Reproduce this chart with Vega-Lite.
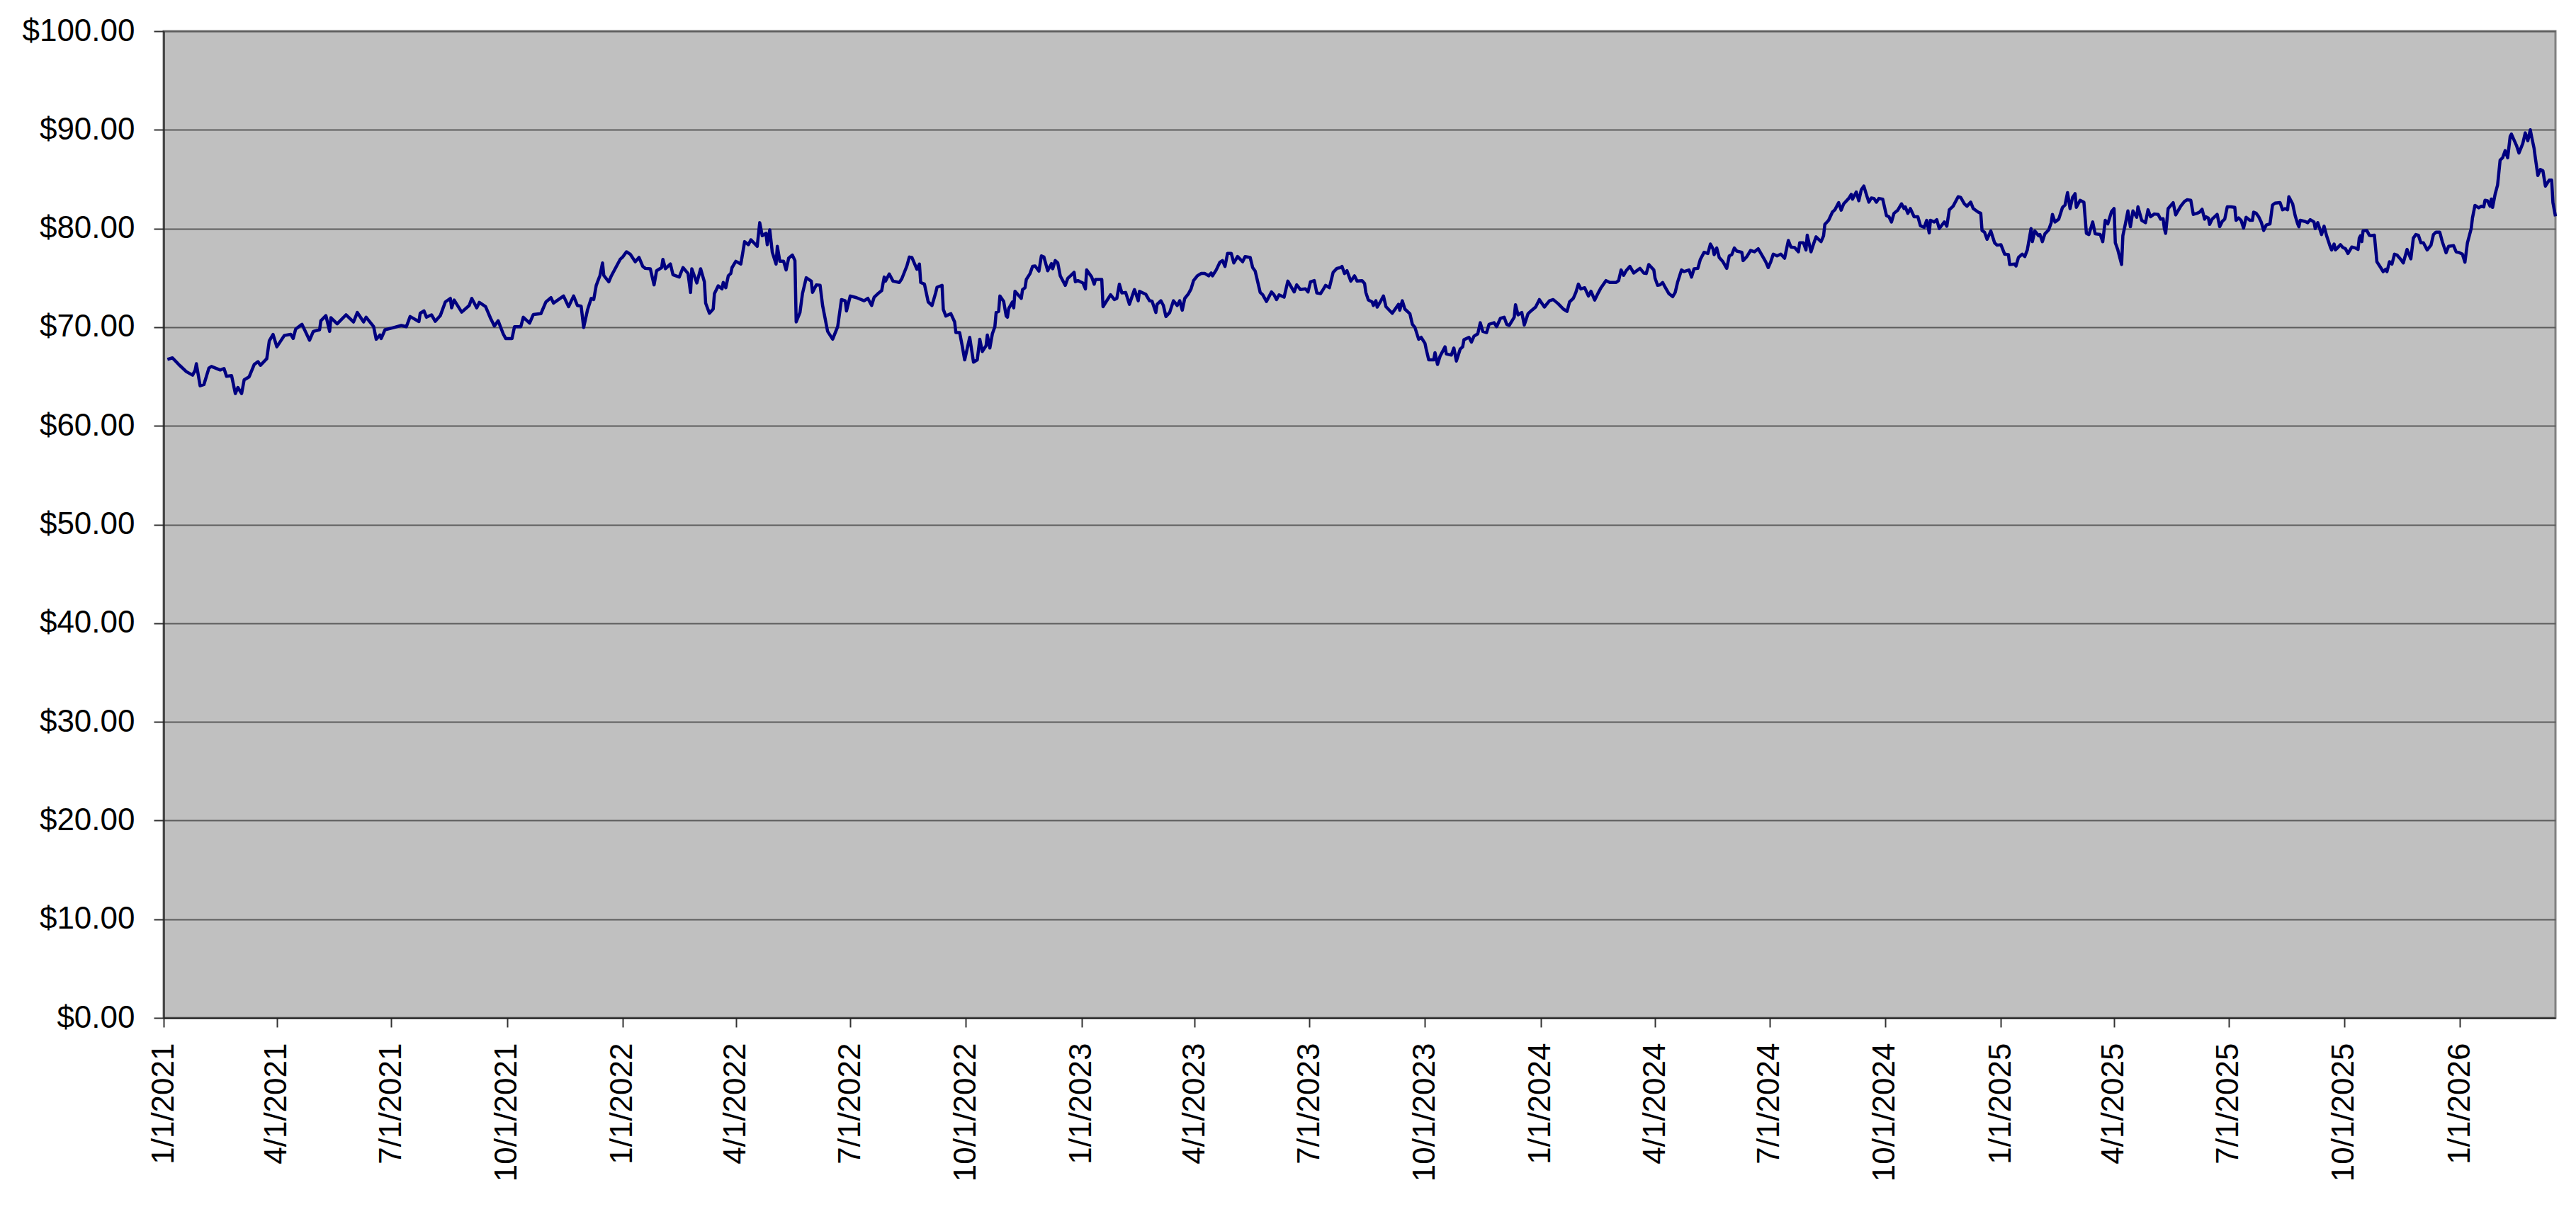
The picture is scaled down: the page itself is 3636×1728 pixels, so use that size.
{
  "$schema": "https://vega.github.io/schema/vega-lite/v6.json",
  "description": "Daily closing price, Jan 2021 - Mar 2026.",
  "width": 3376,
  "height": 1393,
  "autosize": {"type": "none"},
  "padding": {"left": 231, "top": 44, "right": 29, "bottom": 291},
  "background": "#ffffff",
  "data": {
    "values": [
      {"date": "2021-01-04", "price": 66.74}, {"date": "2021-01-08", "price": 66.89}, {"date": "2021-01-13", "price": 66.22},
      {"date": "2021-01-19", "price": 65.50}, {"date": "2021-01-24", "price": 65.14}, {"date": "2021-01-26", "price": 65.62},
      {"date": "2021-01-27", "price": 66.29}, {"date": "2021-01-30", "price": 64.06}, {"date": "2021-02-02", "price": 64.18},
      {"date": "2021-02-06", "price": 65.86}, {"date": "2021-02-08", "price": 66.02}, {"date": "2021-02-15", "price": 65.66},
      {"date": "2021-02-18", "price": 65.81}, {"date": "2021-02-20", "price": 65.02}, {"date": "2021-02-24", "price": 65.09},
      {"date": "2021-02-27", "price": 63.27}, {"date": "2021-03-01", "price": 63.89}, {"date": "2021-03-04", "price": 63.27},
      {"date": "2021-03-06", "price": 64.66}, {"date": "2021-03-10", "price": 64.97}, {"date": "2021-03-14", "price": 66.22},
      {"date": "2021-03-17", "price": 66.50}, {"date": "2021-03-19", "price": 66.14}, {"date": "2021-03-24", "price": 66.81},
      {"date": "2021-03-26", "price": 68.61}, {"date": "2021-03-29", "price": 69.26}, {"date": "2021-04-01", "price": 68.01},
      {"date": "2021-04-07", "price": 69.16}, {"date": "2021-04-12", "price": 69.28}, {"date": "2021-04-14", "price": 68.85},
      {"date": "2021-04-16", "price": 69.81}, {"date": "2021-04-21", "price": 70.29}, {"date": "2021-04-27", "price": 68.68},
      {"date": "2021-04-30", "price": 69.57}, {"date": "2021-05-05", "price": 69.74}, {"date": "2021-05-06", "price": 70.65},
      {"date": "2021-05-10", "price": 71.17}, {"date": "2021-05-13", "price": 69.57}, {"date": "2021-05-14", "price": 70.96},
      {"date": "2021-05-19", "price": 70.34}, {"date": "2021-05-26", "price": 71.25}, {"date": "2021-06-01", "price": 70.53},
      {"date": "2021-06-04", "price": 71.49}, {"date": "2021-06-09", "price": 70.53}, {"date": "2021-06-11", "price": 71.01},
      {"date": "2021-06-17", "price": 70.05}, {"date": "2021-06-19", "price": 68.78}, {"date": "2021-06-22", "price": 69.21},
      {"date": "2021-06-23", "price": 68.85}, {"date": "2021-06-26", "price": 69.74}, {"date": "2021-07-02", "price": 69.93},
      {"date": "2021-07-09", "price": 70.17}, {"date": "2021-07-13", "price": 70.05}, {"date": "2021-07-16", "price": 71.08},
      {"date": "2021-07-23", "price": 70.57}, {"date": "2021-07-24", "price": 71.41}, {"date": "2021-07-27", "price": 71.65},
      {"date": "2021-07-29", "price": 71.01}, {"date": "2021-08-02", "price": 71.25}, {"date": "2021-08-05", "price": 70.60},
      {"date": "2021-08-09", "price": 71.17}, {"date": "2021-08-13", "price": 72.56}, {"date": "2021-08-17", "price": 72.92},
      {"date": "2021-08-18", "price": 71.96}, {"date": "2021-08-20", "price": 72.75}, {"date": "2021-08-26", "price": 71.53},
      {"date": "2021-09-01", "price": 72.20}, {"date": "2021-09-03", "price": 72.92}, {"date": "2021-09-07", "price": 71.96},
      {"date": "2021-09-09", "price": 72.51}, {"date": "2021-09-14", "price": 72.08}, {"date": "2021-09-18", "price": 70.89},
      {"date": "2021-09-21", "price": 70.12}, {"date": "2021-09-24", "price": 70.65}, {"date": "2021-09-28", "price": 69.33},
      {"date": "2021-09-30", "price": 68.85}, {"date": "2021-10-05", "price": 68.85}, {"date": "2021-10-07", "price": 70.05},
      {"date": "2021-10-12", "price": 70.05}, {"date": "2021-10-14", "price": 71.01}, {"date": "2021-10-19", "price": 70.41},
      {"date": "2021-10-22", "price": 71.29}, {"date": "2021-10-28", "price": 71.37}, {"date": "2021-11-01", "price": 72.56},
      {"date": "2021-11-05", "price": 72.99}, {"date": "2021-11-07", "price": 72.44}, {"date": "2021-11-15", "price": 73.16},
      {"date": "2021-11-19", "price": 72.08}, {"date": "2021-11-23", "price": 73.16}, {"date": "2021-11-26", "price": 72.20},
      {"date": "2021-11-29", "price": 72.13}, {"date": "2021-12-01", "price": 69.98}, {"date": "2021-12-04", "price": 71.72},
      {"date": "2021-12-07", "price": 72.92}, {"date": "2021-12-09", "price": 72.80}, {"date": "2021-12-11", "price": 74.24},
      {"date": "2021-12-14", "price": 75.25}, {"date": "2021-12-16", "price": 76.51}, {"date": "2021-12-17", "price": 75.25},
      {"date": "2021-12-21", "price": 74.60}, {"date": "2021-12-23", "price": 75.20}, {"date": "2021-12-26", "price": 75.92},
      {"date": "2021-12-30", "price": 76.87}, {"date": "2022-01-01", "price": 77.11}, {"date": "2022-01-04", "price": 77.64},
      {"date": "2022-01-07", "price": 77.40}, {"date": "2022-01-11", "price": 76.63}, {"date": "2022-01-14", "price": 77.07},
      {"date": "2022-01-17", "price": 76.16}, {"date": "2022-01-19", "price": 75.96}, {"date": "2022-01-23", "price": 75.92},
      {"date": "2022-01-26", "price": 74.29}, {"date": "2022-01-28", "price": 75.72}, {"date": "2022-02-01", "price": 76.04},
      {"date": "2022-02-02", "price": 76.87}, {"date": "2022-02-04", "price": 75.92}, {"date": "2022-02-08", "price": 76.40},
      {"date": "2022-02-10", "price": 75.32}, {"date": "2022-02-15", "price": 75.08}, {"date": "2022-02-18", "price": 76.04},
      {"date": "2022-02-22", "price": 75.44}, {"date": "2022-02-24", "price": 73.52}, {"date": "2022-02-25", "price": 75.92},
      {"date": "2022-03-01", "price": 74.48}, {"date": "2022-03-04", "price": 75.92}, {"date": "2022-03-07", "price": 74.60},
      {"date": "2022-03-08", "price": 72.44}, {"date": "2022-03-11", "price": 71.41}, {"date": "2022-03-14", "price": 71.84},
      {"date": "2022-03-15", "price": 73.40}, {"date": "2022-03-18", "price": 74.19}, {"date": "2022-03-21", "price": 73.88},
      {"date": "2022-03-22", "price": 74.53}, {"date": "2022-03-24", "price": 74.00}, {"date": "2022-03-26", "price": 75.20},
      {"date": "2022-03-28", "price": 75.44}, {"date": "2022-03-29", "price": 76.04}, {"date": "2022-04-01", "price": 76.68},
      {"date": "2022-04-05", "price": 76.40}, {"date": "2022-04-08", "price": 78.67}, {"date": "2022-04-11", "price": 78.36},
      {"date": "2022-04-13", "price": 78.86}, {"date": "2022-04-18", "price": 78.19}, {"date": "2022-04-20", "price": 80.59},
      {"date": "2022-04-22", "price": 79.27}, {"date": "2022-04-25", "price": 79.51}, {"date": "2022-04-26", "price": 78.36},
      {"date": "2022-04-28", "price": 79.87}, {"date": "2022-04-30", "price": 77.59}, {"date": "2022-05-03", "price": 76.40},
      {"date": "2022-05-04", "price": 78.19}, {"date": "2022-05-06", "price": 76.68}, {"date": "2022-05-09", "price": 76.68},
      {"date": "2022-05-11", "price": 75.80}, {"date": "2022-05-13", "price": 76.99}, {"date": "2022-05-16", "price": 77.31},
      {"date": "2022-05-18", "price": 76.75}, {"date": "2022-05-19", "price": 70.53}, {"date": "2022-05-22", "price": 71.49},
      {"date": "2022-05-24", "price": 73.40}, {"date": "2022-05-27", "price": 75.01}, {"date": "2022-05-31", "price": 74.67},
      {"date": "2022-06-01", "price": 73.52}, {"date": "2022-06-04", "price": 74.29}, {"date": "2022-06-07", "price": 74.24},
      {"date": "2022-06-09", "price": 72.20}, {"date": "2022-06-13", "price": 69.57}, {"date": "2022-06-17", "price": 68.78},
      {"date": "2022-06-21", "price": 70.05}, {"date": "2022-06-24", "price": 72.80}, {"date": "2022-06-27", "price": 72.68},
      {"date": "2022-06-28", "price": 71.65}, {"date": "2022-07-01", "price": 73.16}, {"date": "2022-07-06", "price": 72.99},
      {"date": "2022-07-12", "price": 72.68}, {"date": "2022-07-15", "price": 72.92}, {"date": "2022-07-18", "price": 72.20},
      {"date": "2022-07-20", "price": 73.04}, {"date": "2022-07-23", "price": 73.40}, {"date": "2022-07-26", "price": 73.71},
      {"date": "2022-07-28", "price": 75.08}, {"date": "2022-07-29", "price": 74.67}, {"date": "2022-08-01", "price": 75.39},
      {"date": "2022-08-04", "price": 74.67}, {"date": "2022-08-09", "price": 74.53}, {"date": "2022-08-11", "price": 74.91},
      {"date": "2022-08-15", "price": 76.20}, {"date": "2022-08-17", "price": 77.11}, {"date": "2022-08-19", "price": 77.07},
      {"date": "2022-08-23", "price": 75.87}, {"date": "2022-08-25", "price": 76.40}, {"date": "2022-08-26", "price": 74.53},
      {"date": "2022-08-29", "price": 74.36}, {"date": "2022-09-01", "price": 72.56}, {"date": "2022-09-04", "price": 72.20},
      {"date": "2022-09-07", "price": 73.52}, {"date": "2022-09-08", "price": 74.05}, {"date": "2022-09-12", "price": 74.24},
      {"date": "2022-09-13", "price": 71.80}, {"date": "2022-09-15", "price": 71.13}, {"date": "2022-09-19", "price": 71.37},
      {"date": "2022-09-22", "price": 70.53}, {"date": "2022-09-23", "price": 69.45}, {"date": "2022-09-26", "price": 69.45},
      {"date": "2022-09-28", "price": 68.13}, {"date": "2022-09-30", "price": 66.69}, {"date": "2022-10-04", "price": 68.97},
      {"date": "2022-10-07", "price": 66.46}, {"date": "2022-10-10", "price": 66.69}, {"date": "2022-10-12", "price": 68.78},
      {"date": "2022-10-14", "price": 67.53}, {"date": "2022-10-17", "price": 68.13}, {"date": "2022-10-18", "price": 69.21},
      {"date": "2022-10-20", "price": 67.89}, {"date": "2022-10-22", "price": 69.33}, {"date": "2022-10-24", "price": 70.05},
      {"date": "2022-10-25", "price": 71.49}, {"date": "2022-10-27", "price": 71.60}, {"date": "2022-10-28", "price": 73.16},
      {"date": "2022-10-31", "price": 72.61}, {"date": "2022-11-02", "price": 71.13}, {"date": "2022-11-03", "price": 71.01},
      {"date": "2022-11-04", "price": 71.89}, {"date": "2022-11-07", "price": 72.56}, {"date": "2022-11-08", "price": 71.96},
      {"date": "2022-11-09", "price": 73.64}, {"date": "2022-11-14", "price": 72.92}, {"date": "2022-11-15", "price": 73.81},
      {"date": "2022-11-17", "price": 74.00}, {"date": "2022-11-18", "price": 74.84}, {"date": "2022-11-21", "price": 75.44},
      {"date": "2022-11-23", "price": 76.16}, {"date": "2022-11-25", "price": 76.20}, {"date": "2022-11-28", "price": 75.68},
      {"date": "2022-11-30", "price": 77.23}, {"date": "2022-12-02", "price": 77.11}, {"date": "2022-12-05", "price": 75.72},
      {"date": "2022-12-08", "price": 76.44}, {"date": "2022-12-09", "price": 75.92}, {"date": "2022-12-11", "price": 76.75},
      {"date": "2022-12-13", "price": 76.51}, {"date": "2022-12-15", "price": 75.20}, {"date": "2022-12-19", "price": 74.24},
      {"date": "2022-12-21", "price": 74.96}, {"date": "2022-12-24", "price": 75.32}, {"date": "2022-12-26", "price": 75.56},
      {"date": "2022-12-27", "price": 74.60}, {"date": "2022-12-29", "price": 74.72}, {"date": "2023-01-02", "price": 74.48},
      {"date": "2023-01-04", "price": 73.88}, {"date": "2023-01-05", "price": 75.80}, {"date": "2023-01-09", "price": 75.08},
      {"date": "2023-01-11", "price": 74.36}, {"date": "2023-01-12", "price": 74.84}, {"date": "2023-01-17", "price": 74.84},
      {"date": "2023-01-18", "price": 72.08}, {"date": "2023-01-21", "price": 72.68}, {"date": "2023-01-24", "price": 73.28},
      {"date": "2023-01-27", "price": 72.80}, {"date": "2023-01-29", "price": 72.92}, {"date": "2023-01-31", "price": 74.36},
      {"date": "2023-02-02", "price": 73.47}, {"date": "2023-02-05", "price": 73.52}, {"date": "2023-02-08", "price": 72.32},
      {"date": "2023-02-12", "price": 73.81}, {"date": "2023-02-15", "price": 72.68}, {"date": "2023-02-16", "price": 73.64},
      {"date": "2023-02-21", "price": 73.33}, {"date": "2023-02-24", "price": 72.68}, {"date": "2023-02-26", "price": 72.63},
      {"date": "2023-03-01", "price": 71.49}, {"date": "2023-03-02", "price": 72.32}, {"date": "2023-03-05", "price": 72.68},
      {"date": "2023-03-07", "price": 72.20}, {"date": "2023-03-09", "price": 71.08}, {"date": "2023-03-12", "price": 71.49},
      {"date": "2023-03-15", "price": 72.68}, {"date": "2023-03-18", "price": 72.20}, {"date": "2023-03-20", "price": 72.68},
      {"date": "2023-03-22", "price": 71.72}, {"date": "2023-03-24", "price": 72.92}, {"date": "2023-03-27", "price": 73.40},
      {"date": "2023-03-29", "price": 73.88}, {"date": "2023-03-31", "price": 74.72}, {"date": "2023-04-03", "price": 75.20},
      {"date": "2023-04-06", "price": 75.44}, {"date": "2023-04-09", "price": 75.44}, {"date": "2023-04-12", "price": 75.20},
      {"date": "2023-04-14", "price": 75.49}, {"date": "2023-04-15", "price": 75.20}, {"date": "2023-04-18", "price": 75.80},
      {"date": "2023-04-21", "price": 76.59}, {"date": "2023-04-23", "price": 76.75}, {"date": "2023-04-25", "price": 76.16},
      {"date": "2023-04-27", "price": 77.47}, {"date": "2023-04-30", "price": 77.47}, {"date": "2023-05-02", "price": 76.51},
      {"date": "2023-05-05", "price": 77.16}, {"date": "2023-05-09", "price": 76.63}, {"date": "2023-05-11", "price": 77.16},
      {"date": "2023-05-15", "price": 77.07}, {"date": "2023-05-17", "price": 76.04}, {"date": "2023-05-19", "price": 75.68},
      {"date": "2023-05-23", "price": 73.52}, {"date": "2023-05-25", "price": 73.28}, {"date": "2023-05-28", "price": 72.61},
      {"date": "2023-06-01", "price": 73.57}, {"date": "2023-06-03", "price": 73.28}, {"date": "2023-06-05", "price": 72.80},
      {"date": "2023-06-07", "price": 73.28}, {"date": "2023-06-11", "price": 73.04}, {"date": "2023-06-14", "price": 74.67},
      {"date": "2023-06-17", "price": 74.00}, {"date": "2023-06-19", "price": 73.57}, {"date": "2023-06-21", "price": 74.29},
      {"date": "2023-06-24", "price": 73.81}, {"date": "2023-06-28", "price": 73.88}, {"date": "2023-06-30", "price": 73.57},
      {"date": "2023-07-02", "price": 74.60}, {"date": "2023-07-05", "price": 74.72}, {"date": "2023-07-07", "price": 73.47},
      {"date": "2023-07-10", "price": 73.40}, {"date": "2023-07-12", "price": 73.81}, {"date": "2023-07-14", "price": 74.24},
      {"date": "2023-07-17", "price": 74.00}, {"date": "2023-07-20", "price": 75.56}, {"date": "2023-07-23", "price": 75.96},
      {"date": "2023-07-26", "price": 76.04}, {"date": "2023-07-27", "price": 76.16}, {"date": "2023-07-29", "price": 75.44},
      {"date": "2023-07-31", "price": 75.72}, {"date": "2023-08-03", "price": 74.67}, {"date": "2023-08-06", "price": 75.20},
      {"date": "2023-08-08", "price": 74.67}, {"date": "2023-08-12", "price": 74.72}, {"date": "2023-08-14", "price": 74.43},
      {"date": "2023-08-15", "price": 73.52}, {"date": "2023-08-17", "price": 72.75}, {"date": "2023-08-20", "price": 72.56},
      {"date": "2023-08-21", "price": 72.20}, {"date": "2023-08-23", "price": 72.68}, {"date": "2023-08-24", "price": 72.04},
      {"date": "2023-08-27", "price": 72.68}, {"date": "2023-08-29", "price": 73.16}, {"date": "2023-08-31", "price": 72.08},
      {"date": "2023-09-05", "price": 71.41}, {"date": "2023-09-08", "price": 71.96}, {"date": "2023-09-10", "price": 72.32},
      {"date": "2023-09-11", "price": 71.72}, {"date": "2023-09-13", "price": 72.68}, {"date": "2023-09-15", "price": 71.84},
      {"date": "2023-09-19", "price": 71.37}, {"date": "2023-09-21", "price": 70.29}, {"date": "2023-09-23", "price": 69.98},
      {"date": "2023-09-26", "price": 68.78}, {"date": "2023-09-28", "price": 68.97}, {"date": "2023-10-01", "price": 68.37},
      {"date": "2023-10-02", "price": 67.77}, {"date": "2023-10-04", "price": 66.69}, {"date": "2023-10-08", "price": 66.69},
      {"date": "2023-10-09", "price": 67.41}, {"date": "2023-10-11", "price": 66.22}, {"date": "2023-10-13", "price": 67.05},
      {"date": "2023-10-17", "price": 68.01}, {"date": "2023-10-18", "price": 67.29}, {"date": "2023-10-22", "price": 67.17},
      {"date": "2023-10-24", "price": 67.89}, {"date": "2023-10-26", "price": 66.57}, {"date": "2023-10-29", "price": 67.77},
      {"date": "2023-10-31", "price": 68.01}, {"date": "2023-11-01", "price": 68.73}, {"date": "2023-11-05", "price": 68.97},
      {"date": "2023-11-07", "price": 68.49}, {"date": "2023-11-09", "price": 69.09}, {"date": "2023-11-12", "price": 69.33},
      {"date": "2023-11-14", "price": 70.45}, {"date": "2023-11-16", "price": 69.57}, {"date": "2023-11-19", "price": 69.45},
      {"date": "2023-11-21", "price": 70.29}, {"date": "2023-11-25", "price": 70.45}, {"date": "2023-11-27", "price": 70.05},
      {"date": "2023-11-30", "price": 70.89}, {"date": "2023-12-03", "price": 71.01}, {"date": "2023-12-05", "price": 70.29},
      {"date": "2023-12-07", "price": 70.17}, {"date": "2023-12-11", "price": 71.01}, {"date": "2023-12-12", "price": 72.28},
      {"date": "2023-12-14", "price": 71.25}, {"date": "2023-12-17", "price": 71.49}, {"date": "2023-12-19", "price": 70.22},
      {"date": "2023-12-22", "price": 71.37}, {"date": "2023-12-25", "price": 71.72}, {"date": "2023-12-28", "price": 72.04},
      {"date": "2023-12-31", "price": 72.80}, {"date": "2024-01-04", "price": 72.04}, {"date": "2024-01-08", "price": 72.68},
      {"date": "2024-01-11", "price": 72.80}, {"date": "2024-01-15", "price": 72.37}, {"date": "2024-01-19", "price": 71.84},
      {"date": "2024-01-22", "price": 71.60}, {"date": "2024-01-24", "price": 72.56}, {"date": "2024-01-27", "price": 72.92},
      {"date": "2024-01-29", "price": 73.52}, {"date": "2024-01-31", "price": 74.36}, {"date": "2024-02-02", "price": 73.88},
      {"date": "2024-02-05", "price": 74.00}, {"date": "2024-02-08", "price": 73.16}, {"date": "2024-02-10", "price": 73.64},
      {"date": "2024-02-13", "price": 72.75}, {"date": "2024-02-16", "price": 73.52}, {"date": "2024-02-18", "price": 74.00},
      {"date": "2024-02-22", "price": 74.72}, {"date": "2024-02-25", "price": 74.53}, {"date": "2024-03-01", "price": 74.53},
      {"date": "2024-03-03", "price": 74.72}, {"date": "2024-03-05", "price": 75.80}, {"date": "2024-03-07", "price": 75.25},
      {"date": "2024-03-09", "price": 75.72}, {"date": "2024-03-12", "price": 76.16}, {"date": "2024-03-15", "price": 75.49},
      {"date": "2024-03-20", "price": 75.96}, {"date": "2024-03-23", "price": 75.49}, {"date": "2024-03-25", "price": 75.44},
      {"date": "2024-03-27", "price": 76.35}, {"date": "2024-03-31", "price": 75.80}, {"date": "2024-04-01", "price": 74.96},
      {"date": "2024-04-03", "price": 74.24}, {"date": "2024-04-05", "price": 74.29}, {"date": "2024-04-07", "price": 74.53},
      {"date": "2024-04-09", "price": 74.05}, {"date": "2024-04-12", "price": 73.40}, {"date": "2024-04-15", "price": 73.09},
      {"date": "2024-04-17", "price": 73.52}, {"date": "2024-04-19", "price": 74.60}, {"date": "2024-04-22", "price": 75.80},
      {"date": "2024-04-24", "price": 75.63}, {"date": "2024-04-28", "price": 75.80}, {"date": "2024-04-30", "price": 75.08},
      {"date": "2024-05-02", "price": 75.92}, {"date": "2024-05-05", "price": 75.96}, {"date": "2024-05-07", "price": 76.87},
      {"date": "2024-05-10", "price": 77.59}, {"date": "2024-05-13", "price": 77.47}, {"date": "2024-05-15", "price": 78.43},
      {"date": "2024-05-17", "price": 77.95}, {"date": "2024-05-18", "price": 77.35}, {"date": "2024-05-20", "price": 78.02},
      {"date": "2024-05-22", "price": 77.07}, {"date": "2024-05-25", "price": 76.63}, {"date": "2024-05-28", "price": 75.96},
      {"date": "2024-05-30", "price": 77.23}, {"date": "2024-06-01", "price": 77.35}, {"date": "2024-06-03", "price": 78.02},
      {"date": "2024-06-05", "price": 77.71}, {"date": "2024-06-09", "price": 77.59}, {"date": "2024-06-10", "price": 76.75},
      {"date": "2024-06-13", "price": 77.16}, {"date": "2024-06-16", "price": 77.78}, {"date": "2024-06-19", "price": 77.64},
      {"date": "2024-06-22", "price": 77.95}, {"date": "2024-06-26", "price": 77.07}, {"date": "2024-06-28", "price": 76.63},
      {"date": "2024-06-30", "price": 76.04}, {"date": "2024-07-02", "price": 76.63}, {"date": "2024-07-04", "price": 77.40},
      {"date": "2024-07-07", "price": 77.23}, {"date": "2024-07-10", "price": 77.40}, {"date": "2024-07-13", "price": 76.99},
      {"date": "2024-07-16", "price": 78.79}, {"date": "2024-07-18", "price": 78.12}, {"date": "2024-07-21", "price": 78.07},
      {"date": "2024-07-24", "price": 77.64}, {"date": "2024-07-25", "price": 78.55}, {"date": "2024-07-28", "price": 78.55},
      {"date": "2024-07-30", "price": 77.83}, {"date": "2024-07-31", "price": 79.32}, {"date": "2024-08-03", "price": 77.64},
      {"date": "2024-08-05", "price": 78.43}, {"date": "2024-08-07", "price": 79.15}, {"date": "2024-08-11", "price": 78.67},
      {"date": "2024-08-13", "price": 79.27}, {"date": "2024-08-14", "price": 80.42}, {"date": "2024-08-17", "price": 80.83},
      {"date": "2024-08-20", "price": 81.66}, {"date": "2024-08-22", "price": 81.90}, {"date": "2024-08-25", "price": 82.62},
      {"date": "2024-08-27", "price": 81.86}, {"date": "2024-08-29", "price": 82.50}, {"date": "2024-09-02", "price": 83.05},
      {"date": "2024-09-04", "price": 83.46}, {"date": "2024-09-05", "price": 82.98}, {"date": "2024-09-08", "price": 83.70},
      {"date": "2024-09-10", "price": 82.81}, {"date": "2024-09-12", "price": 83.94}, {"date": "2024-09-14", "price": 84.30},
      {"date": "2024-09-16", "price": 83.46}, {"date": "2024-09-18", "price": 82.67}, {"date": "2024-09-20", "price": 83.10},
      {"date": "2024-09-22", "price": 83.05}, {"date": "2024-09-24", "price": 82.67}, {"date": "2024-09-26", "price": 83.05},
      {"date": "2024-09-29", "price": 82.98}, {"date": "2024-10-02", "price": 81.31}, {"date": "2024-10-04", "price": 81.19},
      {"date": "2024-10-06", "price": 80.66}, {"date": "2024-10-08", "price": 81.54}, {"date": "2024-10-11", "price": 81.86},
      {"date": "2024-10-14", "price": 82.50}, {"date": "2024-10-16", "price": 82.02}, {"date": "2024-10-17", "price": 82.19},
      {"date": "2024-10-19", "price": 81.54}, {"date": "2024-10-21", "price": 82.02}, {"date": "2024-10-24", "price": 81.19},
      {"date": "2024-10-27", "price": 81.19}, {"date": "2024-10-29", "price": 80.28}, {"date": "2024-11-01", "price": 80.11},
      {"date": "2024-11-03", "price": 80.83}, {"date": "2024-11-05", "price": 79.56}, {"date": "2024-11-06", "price": 80.83},
      {"date": "2024-11-09", "price": 80.66}, {"date": "2024-11-11", "price": 80.90}, {"date": "2024-11-13", "price": 79.99},
      {"date": "2024-11-17", "price": 80.66}, {"date": "2024-11-19", "price": 80.23}, {"date": "2024-11-21", "price": 81.90},
      {"date": "2024-11-24", "price": 82.26}, {"date": "2024-11-28", "price": 83.22}, {"date": "2024-11-30", "price": 83.15},
      {"date": "2024-12-03", "price": 82.50}, {"date": "2024-12-05", "price": 82.26}, {"date": "2024-12-08", "price": 82.67},
      {"date": "2024-12-10", "price": 82.02}, {"date": "2024-12-14", "price": 81.66}, {"date": "2024-12-16", "price": 81.54},
      {"date": "2024-12-17", "price": 79.80}, {"date": "2024-12-19", "price": 79.63}, {"date": "2024-12-21", "price": 78.91},
      {"date": "2024-12-24", "price": 79.75}, {"date": "2024-12-27", "price": 78.55}, {"date": "2024-12-29", "price": 78.31},
      {"date": "2025-01-01", "price": 78.36}, {"date": "2025-01-04", "price": 77.40}, {"date": "2025-01-07", "price": 77.35},
      {"date": "2025-01-08", "price": 76.35}, {"date": "2025-01-12", "price": 76.40}, {"date": "2025-01-13", "price": 76.20},
      {"date": "2025-01-15", "price": 77.07}, {"date": "2025-01-18", "price": 77.40}, {"date": "2025-01-20", "price": 77.16},
      {"date": "2025-01-22", "price": 77.83}, {"date": "2025-01-25", "price": 79.99}, {"date": "2025-01-26", "price": 78.67},
      {"date": "2025-01-28", "price": 79.75}, {"date": "2025-01-31", "price": 79.27}, {"date": "2025-02-01", "price": 79.39},
      {"date": "2025-02-03", "price": 78.67}, {"date": "2025-02-05", "price": 79.46}, {"date": "2025-02-08", "price": 79.87},
      {"date": "2025-02-10", "price": 80.59}, {"date": "2025-02-11", "price": 81.43}, {"date": "2025-02-13", "price": 80.66},
      {"date": "2025-02-16", "price": 80.95}, {"date": "2025-02-19", "price": 82.14}, {"date": "2025-02-21", "price": 82.38},
      {"date": "2025-02-23", "price": 83.63}, {"date": "2025-02-25", "price": 82.02}, {"date": "2025-02-27", "price": 83.15},
      {"date": "2025-03-01", "price": 83.53}, {"date": "2025-03-02", "price": 82.14}, {"date": "2025-03-05", "price": 82.86},
      {"date": "2025-03-08", "price": 82.67}, {"date": "2025-03-10", "price": 79.51}, {"date": "2025-03-12", "price": 79.39},
      {"date": "2025-03-15", "price": 80.66}, {"date": "2025-03-17", "price": 79.46}, {"date": "2025-03-21", "price": 79.39},
      {"date": "2025-03-23", "price": 78.67}, {"date": "2025-03-25", "price": 80.83}, {"date": "2025-03-27", "price": 80.47},
      {"date": "2025-03-30", "price": 81.71}, {"date": "2025-04-01", "price": 82.02}, {"date": "2025-04-02", "price": 78.55},
      {"date": "2025-04-04", "price": 77.83}, {"date": "2025-04-07", "price": 76.35}, {"date": "2025-04-08", "price": 79.27},
      {"date": "2025-04-10", "price": 80.47}, {"date": "2025-04-12", "price": 81.78}, {"date": "2025-04-14", "price": 80.18},
      {"date": "2025-04-16", "price": 81.78}, {"date": "2025-04-19", "price": 81.14}, {"date": "2025-04-20", "price": 82.19},
      {"date": "2025-04-23", "price": 80.83}, {"date": "2025-04-26", "price": 80.59}, {"date": "2025-04-28", "price": 81.90},
      {"date": "2025-04-30", "price": 81.19}, {"date": "2025-05-03", "price": 81.47}, {"date": "2025-05-06", "price": 81.43},
      {"date": "2025-05-08", "price": 80.95}, {"date": "2025-05-10", "price": 80.99}, {"date": "2025-05-11", "price": 79.99},
      {"date": "2025-05-12", "price": 79.51}, {"date": "2025-05-14", "price": 82.02}, {"date": "2025-05-18", "price": 82.62},
      {"date": "2025-05-20", "price": 81.38}, {"date": "2025-05-24", "price": 82.26}, {"date": "2025-05-27", "price": 82.74},
      {"date": "2025-05-29", "price": 82.91}, {"date": "2025-06-01", "price": 82.86}, {"date": "2025-06-03", "price": 81.43},
      {"date": "2025-06-06", "price": 81.54}, {"date": "2025-06-08", "price": 81.66}, {"date": "2025-06-10", "price": 81.95},
      {"date": "2025-06-12", "price": 80.95}, {"date": "2025-06-13", "price": 81.19}, {"date": "2025-06-15", "price": 81.07},
      {"date": "2025-06-16", "price": 80.42}, {"date": "2025-06-18", "price": 80.95}, {"date": "2025-06-22", "price": 81.43},
      {"date": "2025-06-24", "price": 80.18}, {"date": "2025-06-26", "price": 80.71}, {"date": "2025-06-28", "price": 80.95},
      {"date": "2025-06-30", "price": 82.19}, {"date": "2025-07-03", "price": 82.19}, {"date": "2025-07-06", "price": 82.14},
      {"date": "2025-07-07", "price": 80.83}, {"date": "2025-07-09", "price": 81.07}, {"date": "2025-07-11", "price": 80.83},
      {"date": "2025-07-13", "price": 80.04}, {"date": "2025-07-15", "price": 81.14}, {"date": "2025-07-18", "price": 80.83},
      {"date": "2025-07-20", "price": 80.83}, {"date": "2025-07-21", "price": 81.66}, {"date": "2025-07-23", "price": 81.54},
      {"date": "2025-07-25", "price": 81.19}, {"date": "2025-07-27", "price": 80.66}, {"date": "2025-07-29", "price": 79.80},
      {"date": "2025-07-31", "price": 80.35}, {"date": "2025-08-03", "price": 80.47}, {"date": "2025-08-05", "price": 82.38},
      {"date": "2025-08-07", "price": 82.57}, {"date": "2025-08-11", "price": 82.62}, {"date": "2025-08-13", "price": 81.90},
      {"date": "2025-08-15", "price": 82.02}, {"date": "2025-08-17", "price": 81.90}, {"date": "2025-08-18", "price": 83.22},
      {"date": "2025-08-21", "price": 82.50}, {"date": "2025-08-23", "price": 81.31}, {"date": "2025-08-25", "price": 80.47},
      {"date": "2025-08-26", "price": 80.18}, {"date": "2025-08-27", "price": 80.83}, {"date": "2025-08-31", "price": 80.71},
      {"date": "2025-09-02", "price": 80.59}, {"date": "2025-09-04", "price": 80.90}, {"date": "2025-09-07", "price": 80.66},
      {"date": "2025-09-08", "price": 79.99}, {"date": "2025-09-10", "price": 80.59}, {"date": "2025-09-13", "price": 79.39},
      {"date": "2025-09-15", "price": 80.23}, {"date": "2025-09-17", "price": 79.27}, {"date": "2025-09-20", "price": 78.12},
      {"date": "2025-09-21", "price": 77.83}, {"date": "2025-09-23", "price": 78.43}, {"date": "2025-09-24", "price": 77.83},
      {"date": "2025-09-25", "price": 77.95}, {"date": "2025-09-28", "price": 78.36}, {"date": "2025-09-30", "price": 78.07},
      {"date": "2025-10-02", "price": 77.95}, {"date": "2025-10-04", "price": 77.47}, {"date": "2025-10-07", "price": 78.12},
      {"date": "2025-10-10", "price": 78.02}, {"date": "2025-10-12", "price": 77.88}, {"date": "2025-10-13", "price": 79.03},
      {"date": "2025-10-14", "price": 79.27}, {"date": "2025-10-15", "price": 78.67}, {"date": "2025-10-16", "price": 79.75},
      {"date": "2025-10-19", "price": 79.80}, {"date": "2025-10-21", "price": 79.32}, {"date": "2025-10-22", "price": 79.27},
      {"date": "2025-10-25", "price": 79.32}, {"date": "2025-10-27", "price": 76.63}, {"date": "2025-10-30", "price": 76.04},
      {"date": "2025-11-01", "price": 75.63}, {"date": "2025-11-03", "price": 75.87}, {"date": "2025-11-04", "price": 75.63},
      {"date": "2025-11-06", "price": 76.63}, {"date": "2025-11-08", "price": 76.40}, {"date": "2025-11-10", "price": 77.40},
      {"date": "2025-11-12", "price": 77.31}, {"date": "2025-11-15", "price": 76.87}, {"date": "2025-11-17", "price": 76.51},
      {"date": "2025-11-20", "price": 77.88}, {"date": "2025-11-23", "price": 76.92}, {"date": "2025-11-25", "price": 79.03},
      {"date": "2025-11-27", "price": 79.39}, {"date": "2025-11-29", "price": 79.32}, {"date": "2025-12-01", "price": 78.55},
      {"date": "2025-12-03", "price": 78.55}, {"date": "2025-12-06", "price": 77.83}, {"date": "2025-12-09", "price": 78.31},
      {"date": "2025-12-11", "price": 79.39}, {"date": "2025-12-13", "price": 79.63}, {"date": "2025-12-16", "price": 79.63},
      {"date": "2025-12-18", "price": 78.67}, {"date": "2025-12-21", "price": 77.54}, {"date": "2025-12-23", "price": 78.19},
      {"date": "2025-12-27", "price": 78.26}, {"date": "2025-12-29", "price": 77.64}, {"date": "2025-12-31", "price": 77.59},
      {"date": "2026-01-03", "price": 77.40}, {"date": "2026-01-05", "price": 76.59}, {"date": "2026-01-07", "price": 78.55},
      {"date": "2026-01-10", "price": 79.99}, {"date": "2026-01-11", "price": 81.07}, {"date": "2026-01-13", "price": 82.34},
      {"date": "2026-01-16", "price": 82.10}, {"date": "2026-01-18", "price": 82.26}, {"date": "2026-01-20", "price": 82.19},
      {"date": "2026-01-21", "price": 82.86}, {"date": "2026-01-23", "price": 82.81}, {"date": "2026-01-25", "price": 82.26},
      {"date": "2026-01-26", "price": 82.98}, {"date": "2026-01-27", "price": 82.14}, {"date": "2026-01-29", "price": 83.46},
      {"date": "2026-01-31", "price": 84.42}, {"date": "2026-02-02", "price": 86.93}, {"date": "2026-02-04", "price": 87.17},
      {"date": "2026-02-06", "price": 87.89}, {"date": "2026-02-08", "price": 87.17}, {"date": "2026-02-10", "price": 89.33},
      {"date": "2026-02-11", "price": 89.57}, {"date": "2026-02-15", "price": 88.42}, {"date": "2026-02-17", "price": 87.65},
      {"date": "2026-02-20", "price": 88.61}, {"date": "2026-02-22", "price": 89.69}, {"date": "2026-02-24", "price": 88.90},
      {"date": "2026-02-26", "price": 90.00}, {"date": "2026-02-27", "price": 89.33}, {"date": "2026-03-01", "price": 88.13},
      {"date": "2026-03-02", "price": 87.17}, {"date": "2026-03-04", "price": 85.38}, {"date": "2026-03-06", "price": 85.98},
      {"date": "2026-03-08", "price": 85.86}, {"date": "2026-03-10", "price": 84.30}, {"date": "2026-03-13", "price": 84.90},
      {"date": "2026-03-15", "price": 84.90}, {"date": "2026-03-16", "price": 82.62}, {"date": "2026-03-18", "price": 81.23}
    ]
  },
  "mark": {"type": "line", "color": "#000080", "strokeWidth": 4.5, "strokeJoin": "round"},
  "encoding": {
    "x": {
      "field": "date",
      "type": "temporal",
      "scale": {
        "type": "utc",
        "domain": [
          {"year": 2021, "month": 1, "date": 1, "utc": true},
          {"year": 2026, "month": 3, "date": 18, "utc": true}
        ]
      },
      "axis": {
        "title": null,
        "grid": false,
        "format": "%-m/%-d/%Y",
        "tickCount": {"interval": "month", "step": 3},
        "labelAngle": 270,
        "labelPadding": 22,
        "labelFlush": false,
        "labelOverlap": false,
        "labelLimit": 0,
        "tickSize": 13
      }
    },
    "y": {
      "field": "price",
      "type": "quantitative",
      "scale": {"domain": [0, 100]},
      "axis": {
        "title": null,
        "values": [0, 10, 20, 30, 40, 50, 60, 70, 80, 90, 100],
        "format": "$.2f",
        "grid": true,
        "gridColor": "#5c5c5c",
        "gridWidth": 2,
        "labelPadding": 27,
        "labelLimit": 0,
        "tickSize": 14
      }
    }
  },
  "config": {
    "view": {"fill": "#C0C0C0", "stroke": "#808080", "strokeWidth": 3},
    "axis": {
      "labelFont": "Liberation Sans",
      "labelFontSize": 44,
      "labelColor": "#000000",
      "tickColor": "#333333",
      "tickWidth": 2,
      "domainColor": "#222222",
      "domainWidth": 2
    }
  }
}
